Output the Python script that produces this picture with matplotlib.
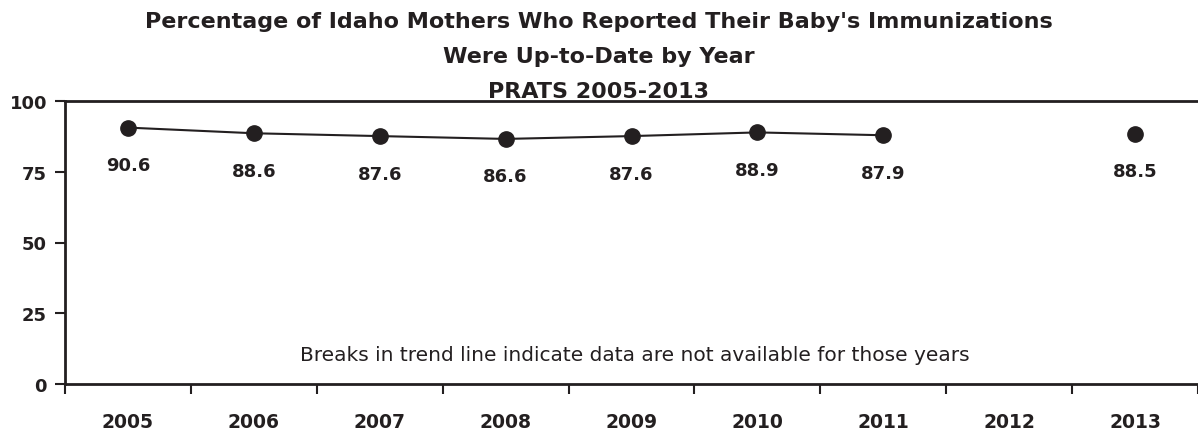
import numpy as np
import matplotlib.pyplot as plt

years = ['2005', '2006', '2007', '2008', '2009', '2010', '2011', '2012', '2013']
values = [90.6, 88.6, 87.6, 86.6, 87.6, 88.9, 87.9, np.nan, 88.5]
yticks = [0, 25, 50, 75, 100]

plt.rcParams['font.family'] = ['DejaVu Sans']

fig = plt.figure(figsize=(11.98, 4.35), dpi=100)
ax = fig.add_axes([65 / 1198, 50 / 435, 1133 / 1198, 283 / 435])

x = np.arange(len(years))
ax.plot(x, values, color='#231f20', lw=1.5, marker='o', ms=11, zorder=3)

for xi, v in zip(x, values):
    if np.isnan(v):
        continue
    ax.annotate(f'{v:.1f}', (xi, v), xytext=(0, -27), textcoords='offset points',
                ha='center', va='center', fontsize=13, fontweight='bold', color='#231f20')

ax.set_xlim(-0.5, len(years) - 0.5)
ax.set_ylim(0, 100)
ax.set_yticks(yticks)
ax.set_yticklabels([str(t) for t in yticks], fontsize=13, fontweight='bold', color='#231f20')

# ticks between categories, labels centered
ax.set_xticks(np.arange(-0.5, len(years), 1))
ax.set_xticklabels([])
ax.set_xticks(x, minor=True)
ax.set_xticklabels(years, minor=True, fontsize=13.5, fontweight='bold', color='#231f20')
ax.tick_params(axis='x', which='minor', length=0, pad=20)
ax.tick_params(axis='x', which='major', length=7, width=1.5, color='#231f20', direction='out')
ax.tick_params(axis='y', length=7, width=1.5, color='#231f20', direction='out', pad=6)

for s in ['left', 'bottom', 'top']:
    ax.spines[s].set_linewidth(2)
    ax.spines[s].set_color('#231f20')
ax.spines['right'].set_visible(False)

ax.text(0.503, 0.105, 'Breaks in trend line indicate data are not available for those years',
        transform=ax.transAxes, ha='center', va='center', fontsize=14.5, color='#231f20')

title_lines = ["Percentage of Idaho Mothers Who Reported Their Baby's Immunizations",
               'Were Up-to-Date by Year',
               'PRATS 2005-2013']
for line, ypix in zip(title_lines, [22, 57, 92]):
    fig.text(0.5, 1 - ypix / 435, line, ha='center', va='center',
             fontsize=16, fontweight='bold', color='#231f20')

fig.savefig('out.png', dpi=100)
